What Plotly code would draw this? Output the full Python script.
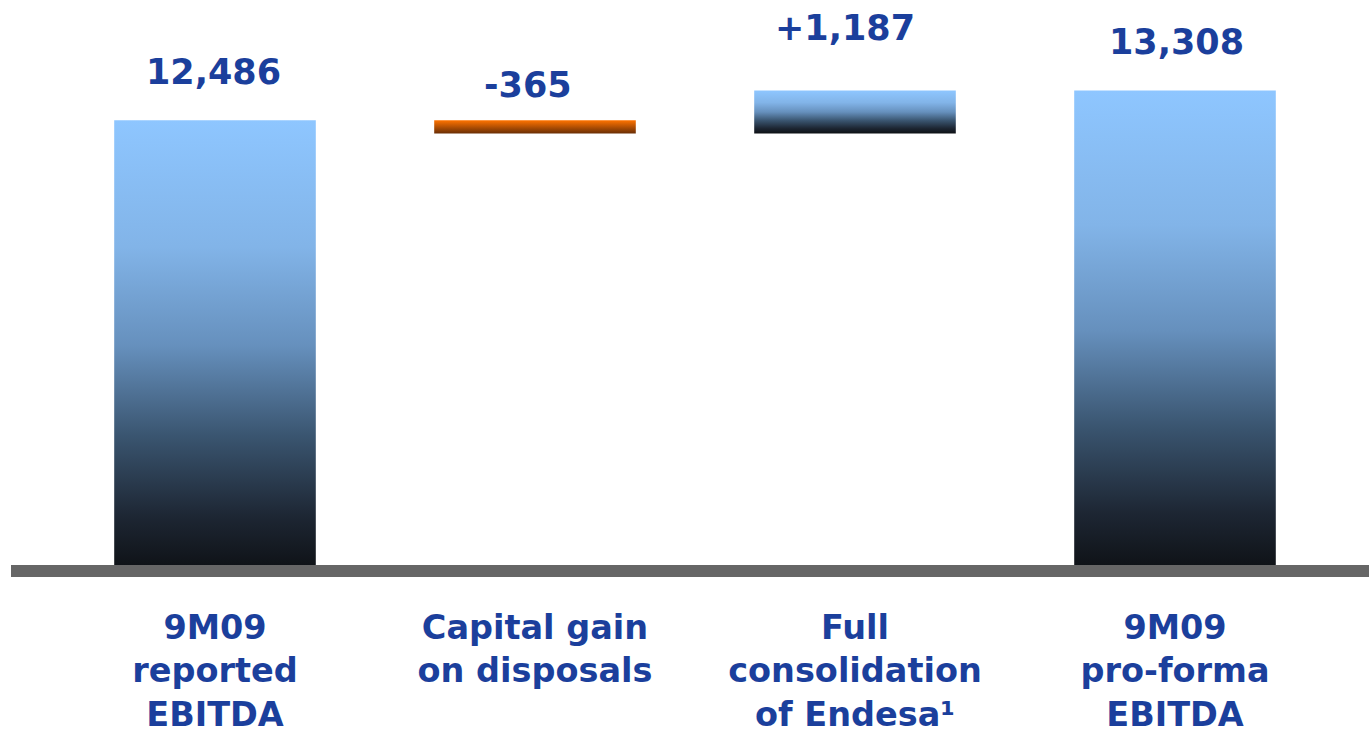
import plotly.graph_objects as go

# ---- data ----
categories = ["9M09<br>reported<br>EBITDA", "Capital gain<br>on disposals",
              "Full<br>consolidation<br>of Endesa¹", "9M09<br>pro-forma<br>EBITDA"]
values = [12486, -365, 1187, 13308]
measures = ["absolute", "relative", "relative", "total"]
value_labels = ["12,486", "-365", "+1,187", "13,308"]

# ---- style ----
BLUE_SCALE = [[0.0, "#0e1115"], [0.12, "#1d2633"], [0.3, "#3a5570"],
              [0.5, "#6690bd"], [0.72, "#82b4e8"], [1.0, "#8ec6ff"]]
ORANGE_SCALE = [[0.0, "#6a2e05"], [1.0, "#ff7300"]]
bar_scales = [BLUE_SCALE, ORANGE_SCALE, BLUE_SCALE, BLUE_SCALE]
TEXT_BLUE = "#1b3f9c"
FONT = "DejaVu Sans"
label_yshift = [48, 35, 63, 49]
label_xshift = [-2, -7, -10, 1]
BAR_W = 0.63

# compute waterfall bases/tops
bases, tops = [], []
running = 0
for v, m in zip(values, measures):
    if m == "absolute":
        b, t = 0, v
        running = v
    elif m == "relative":
        b, t = running, running + v
        running = running + v
    else:
        b, t = 0, running
    bases.append(min(b, t))
    tops.append(max(b, t))

fig = go.Figure()
for i in range(len(values)):
    x0, x1 = i - BAR_W / 2, i + BAR_W / 2
    fig.add_trace(go.Scatter(
        x=[x0, x1, x1, x0, x0],
        y=[bases[i], bases[i], tops[i], tops[i], bases[i]],
        mode="lines", fill="toself", line=dict(width=0),
        fillgradient=dict(type="vertical", colorscale=bar_scales[i]),
        hoverinfo="skip", showlegend=False))
    fig.add_annotation(x=i, y=tops[i], text=value_labels[i], showarrow=False,
                       yanchor="middle", xanchor="center",
                       yshift=label_yshift[i], xshift=label_xshift[i],
                       font=dict(family=FONT, size=35, color=TEXT_BLUE, weight="bold"))

# axis base line
fig.add_shape(type="line", xref="paper", yref="y", x0=11 / 1369, x1=1, y0=0, y1=0,
              line=dict(color="#666666", width=12), layer="above")

k = 0.0361  # px per unit
fig.update_layout(
    width=1369, height=729,
    margin=dict(l=0, r=0, t=0, b=149, autoexpand=False),
    plot_bgcolor="white", paper_bgcolor="white",
    xaxis=dict(range=[-215 / 320, (1369 - 215) / 320], tickvals=list(range(len(categories))),
               ticktext=categories, showgrid=False, zeroline=False, showline=False,
               ticks="", ticklabelstandoff=24, automargin=False,
               tickfont=dict(family=FONT, size=33.5, color=TEXT_BLUE, weight="bold")),
    yaxis=dict(range=[-9 / k, 571 / k], visible=False, showgrid=False, zeroline=False,
               automargin=False),
)

fig.write_html("out.html", config={"displayModeBar": False},
               post_script="document.body.style.margin='0';document.body.style.padding='0';")
